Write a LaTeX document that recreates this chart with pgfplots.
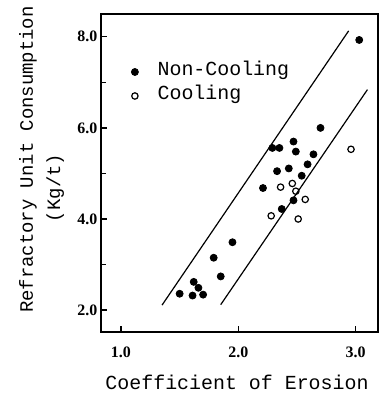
\documentclass[border=0pt]{standalone}
\usepackage{fontspec}
\setmainfont{Liberation Serif}
\setmonofont{Liberation Mono}
\usepackage{pgfplots}
\pgfplotsset{compat=1.18}
\begin{document}
\begin{tikzpicture}
\begin{axis}[
  name=ax,
  scale only axis,
  width=138.5bp, height=159bp,
  xmin=0.83, xmax=3.19,
  ymin=1.52, ymax=8.5,
  clip=false,
  axis line style={line width=0.8bp},
  xtick={1,2,3},
  ytick={2,4,6,8},
  minor ytick={3,5,7},
  xtick pos=left, ytick pos=left,
  tick align=inside,
  major tick length=3bp, minor tick length=2.5bp,
  tick style={line width=0.7bp, black},
  /pgf/number format/assume math mode=true,
  /pgf/number format/.cd, fixed, fixed zerofill, precision=1, /pgfplots/.cd,
  ticklabel style={font=\fontsize{8}{9}\selectfont\bfseries},
  xticklabel style={anchor=base, inner sep=0pt, yshift=-12.7bp},
  yticklabel style={anchor=east, inner sep=0pt, xshift=-1.6bp},
  xlabel={Coefficient of Erosion},
  xlabel style={font=\fontsize{10}{12}\ttfamily, at={([yshift=-28.5bp]rel axis cs:0.491,0)}, anchor=base},
  ylabel={Refractory Unit Consumption},
  ylabel style={font=\fontsize{9.5}{12}\ttfamily, at={([xshift=-34bp]rel axis cs:0,0.542)}, anchor=base},
  legend style={draw=none, fill=none, at={(rel axis cs:0,1)}, anchor=north west,
    xshift=15.2bp, yshift=-23bp, inner sep=0pt, outer sep=0pt,
    font=\fontsize{10}{12}\ttfamily,
    nodes={inner sep=0pt, text height=8bp, text depth=4bp},
    column sep=9.6bp},
  legend cell align=left,
  legend image code/.code={\draw[#1] plot coordinates {(0bp,0bp)};},
]
\addplot[only marks, mark=*, mark size=1.75bp, black] coordinates {
(3.03,7.93) (2.70,6.00) (2.47,5.70) (2.29,5.56) (2.35,5.56) (2.49,5.48)
(2.64,5.42) (2.59,5.20) (2.33,5.05) (2.43,5.11) (2.54,4.95) (2.21,4.68)
(2.47,4.41) (2.37,4.22) (1.95,3.49) (1.79,3.15) (1.85,2.74) (1.62,2.62)
(1.66,2.49) (1.50,2.36) (1.61,2.32) (1.70,2.34)
};
\addlegendentry{Non-Cooling}
\addplot[only marks, mark=o, mark size=1.6bp, black, mark options={line width=0.6bp, fill=white}] coordinates {
(2.96,5.53) (2.36,4.70) (2.46,4.78) (2.49,4.61) (2.57,4.43) (2.28,4.07) (2.51,4.00)
};
\addlegendentry{Cooling}
\addplot[black, line width=0.6bp, forget plot] coordinates {(1.35,2.11) (2.94,8.13)};
\addplot[black, line width=0.6bp, forget plot] coordinates {(1.85,2.12) (3.10,6.84)};
\node[rotate=90, anchor=base, font=\fontsize{9.5}{12}\ttfamily] at ([xshift=-20.5bp]rel axis cs:0,0.453) {(Kg/t)};
\end{axis}
\pgfresetboundingbox
\path[use as bounding box] ([shift={(-50.5bp,-31bp)}]ax.south west) rectangle ([shift={(0.5bp,7bp)}]ax.north east);
\end{tikzpicture}
\end{document}
